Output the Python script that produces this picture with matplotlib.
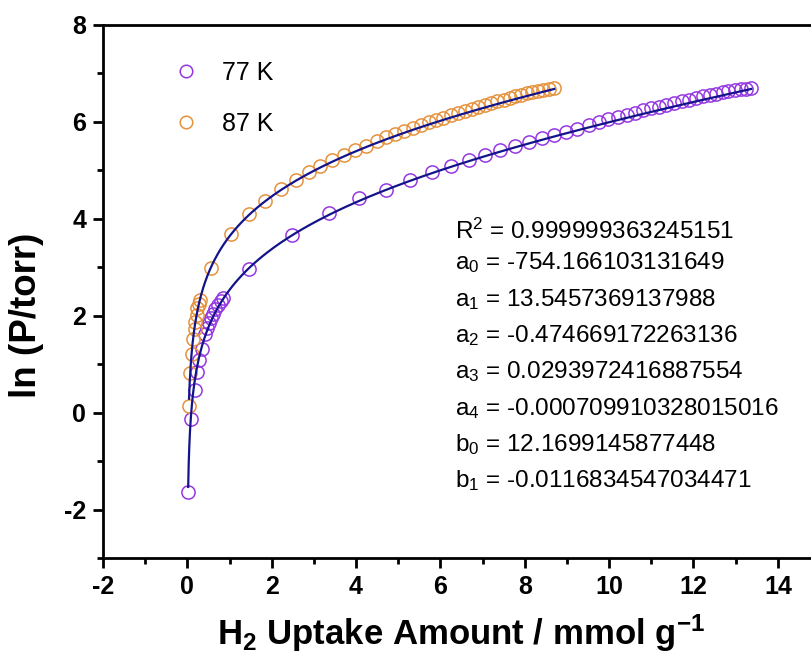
import matplotlib
matplotlib.use("Agg")
import matplotlib.pyplot as plt
import numpy as np

plt.rcParams['font.family'] = ['Liberation Sans', 'DejaVu Sans']
plt.rcParams['mathtext.fontset'] = 'custom'
plt.rcParams['mathtext.rm'] = 'Liberation Sans'
plt.rcParams['mathtext.it'] = 'Liberation Sans:italic'
plt.rcParams['mathtext.bf'] = 'Liberation Sans:bold'
plt.rcParams['axes.unicode_minus'] = False

# H2 uptake (mmol/g) and ln(P/torr) at 77 K
x77 = [0.02, 0.09, 0.17, 0.22, 0.28, 0.35, 0.42, 0.46, 0.51, 0.55, 0.61, 0.66, 0.73,
       0.79, 0.85, 1.47, 2.49, 3.36, 4.08, 4.72, 5.28, 5.79, 6.25, 6.67, 7.05, 7.42,
       7.76, 8.10, 8.41, 8.70, 8.98, 9.24, 9.52, 9.75, 9.97, 10.20, 10.42, 10.62,
       10.81, 11.00, 11.18, 11.36, 11.54, 11.72, 11.90, 12.07, 12.23, 12.39, 12.54,
       12.69, 12.83, 12.98, 13.12, 13.25, 13.37]
y77 = [-1.64, -0.13, 0.46, 0.84, 1.09, 1.32, 1.63, 1.75, 1.85, 1.95, 2.04, 2.13, 2.22,
       2.30, 2.37, 2.97, 3.66, 4.12, 4.42, 4.60, 4.81, 4.96, 5.09, 5.21, 5.31, 5.42,
       5.50, 5.59, 5.66, 5.72, 5.79, 5.85, 5.94, 6.00, 6.05, 6.11, 6.15, 6.19,
       6.24, 6.28, 6.31, 6.35, 6.39, 6.43, 6.46, 6.49, 6.53, 6.55, 6.58,
       6.61, 6.63, 6.65, 6.67, 6.68, 6.69]

# same at 87 K
x87 = [0.04, 0.07, 0.10, 0.14, 0.17, 0.19, 0.22, 0.24, 0.27, 0.29, 0.55, 1.03, 1.47,
       1.84, 2.22, 2.57, 2.89, 3.15, 3.44, 3.72, 3.98, 4.23, 4.49, 4.71, 4.93, 5.14,
       5.34, 5.54, 5.72, 5.89, 6.07, 6.25, 6.42, 6.59, 6.75, 6.90, 7.05, 7.20, 7.35,
       7.50, 7.64, 7.78, 7.91, 8.05, 8.18, 8.32, 8.44, 8.57, 8.70]
y87 = [0.13, 0.82, 1.22, 1.53, 1.73, 1.87, 2.01, 2.15, 2.25, 2.33, 2.99, 3.68, 4.09,
       4.37, 4.61, 4.80, 4.96, 5.08, 5.21, 5.31, 5.42, 5.51, 5.60, 5.68, 5.75, 5.81,
       5.87, 5.93, 5.99, 6.04, 6.09, 6.14, 6.19, 6.23, 6.27, 6.31, 6.35, 6.40, 6.43,
       6.46, 6.50, 6.53, 6.56, 6.59, 6.62, 6.64, 6.66, 6.68, 6.70]

# virial fit coefficients
R2 = "0.999999363245151"
a = [-754.166103131649, 13.5457369137988, -0.474669172263136,
     0.0293972416887554, -0.000709910328015016]
b = [12.1699145877448, -0.0116834547034471]
a_str = ["-754.166103131649", "13.5457369137988", "-0.474669172263136",
         "0.0293972416887554", "-0.000709910328015016"]
b_str = ["12.1699145877448", "-0.0116834547034471"]


def virial(N, T):
    return (np.log(N) + np.polyval(a[::-1], N) / T + np.polyval(b[::-1], N))


purple = "#9538E2"
orange = "#E6923C"
navy = "#14148A"

fig = plt.figure(figsize=(8.11, 6.64), dpi=100)
ax = fig.add_axes([103/811, 1-558/664, 717/811, 533/664])

for xs, ys, T, c, lab in [(x77, y77, 77, purple, "77 K"), (x87, y87, 87, orange, "87 K")]:
    N = np.geomspace(min(xs), max(xs), 500)
    ax.plot(N, virial(N, T), color=navy, lw=1.6, zorder=3)
    ax.plot(xs, ys, 'o', mfc='none', mec=c, mew=1.1, ms=9.5, label=lab, zorder=2)

ax.set_xlim(-2, 15)
ax.set_ylim(-3, 8)
ax.set_xticks(np.arange(-2, 15, 2))
ax.set_xticks(np.arange(-1, 15, 2), minor=True)
ax.set_yticks(np.arange(-2, 9, 2))
ax.set_yticks(np.arange(-3, 8, 2), minor=True)
ax.tick_params(which='major', direction='out', length=7, width=2, labelsize=18, pad=5)
ax.tick_params(which='minor', direction='out', length=4, width=2)
for lbl in ax.get_xticklabels() + ax.get_yticklabels():
    lbl.set_fontweight('bold')
for sp in ax.spines.values():
    sp.set_linewidth(2)
ax.spines['right'].set_visible(False)

ax.set_xlabel(r"H$_\mathbf{2}$ Uptake Amount / mmol g$^\mathbf{-1}$",
              fontsize=25, fontweight='bold', labelpad=10)
ax.set_ylabel("ln (P/torr)", fontsize=26.5, fontweight='bold')
ax.yaxis.set_label_coords(-0.082, 0.456)

ax.legend(loc='upper left', bbox_to_anchor=(0.067, 0.952), frameon=False,
          fontsize=18, handletextpad=0.45, labelspacing=1.1, borderaxespad=0,
          markerscale=0.95)

# fit results, one line each (baselines in pixel rows)
lines = [r"R$^\mathregular{2}$ = " + R2]
lines += [r"a$_\mathregular{%d}$ = %s" % (i, s) for i, s in enumerate(a_str)]
lines += [r"b$_\mathregular{%d}$ = %s" % (i, s) for i, s in enumerate(b_str)]
baselines = [239] + [269 + 36.3 * i for i in range(7)]
for s, ypx in zip(lines, baselines):
    ax.text(6.35, 8 - (ypx - 25) / 48.4, s, fontsize=17.5, va='baseline', ha='left')

fig.savefig("out.png", dpi=100)
